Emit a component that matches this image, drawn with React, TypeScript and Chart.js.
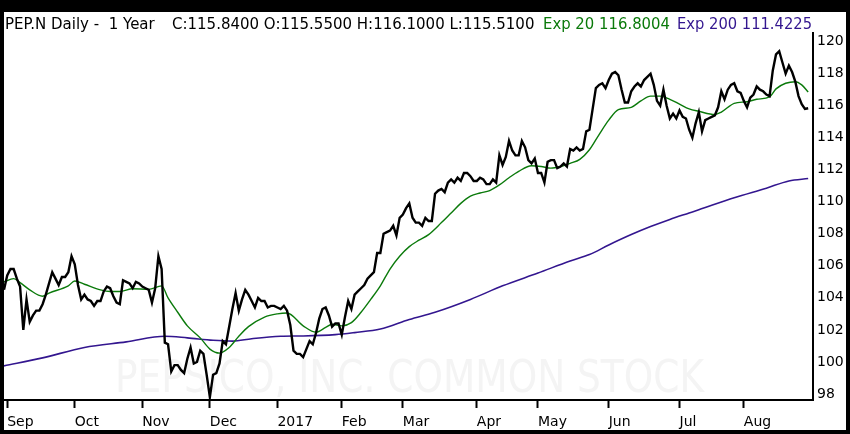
import React, { useEffect, useRef } from "react";
import { Chart, registerables } from "chart.js";

Chart.register(...registerables);

// ---- Data (daily closes) ----
const aug16 = [104.5];
const sep16 = [105.4, 105.8, 105.8, 105.2, 104.7, 102.0, 103.9, 102.5, 102.9, 103.2, 103.2, 103.6, 104.2, 104.9, 105.6, 105.2, 104.8, 105.3, 105.3, 105.6, 106.6];
const oct16 = [106.1, 104.8, 103.9, 104.2, 103.9, 103.8, 103.5, 103.8, 103.8, 104.4, 104.7, 104.6, 104.1, 103.7, 103.6, 105.1, 105.0, 104.9, 104.6, 105.0, 104.9];
const nov16 = [104.7, 104.6, 104.5, 103.7, 104.6, 106.6, 105.8, 101.2, 101.1, 99.4, 99.8, 99.8, 99.5, 99.3, 100.2, 100.9, 99.9, 100.0, 100.7, 100.5, 99.2];
const dec16 = [97.8, 99.2, 99.3, 99.9, 101.3, 101.1, 102.2, 103.3, 104.3, 103.2, 103.9, 104.5, 104.2, 103.8, 103.4, 104.0, 103.8, 103.8, 103.4, 103.5, 103.5];
const jan17 = [103.4, 103.3, 103.5, 103.2, 102.3, 100.7, 100.5, 100.5, 100.3, 100.8, 101.3, 101.1, 101.8, 102.7, 103.3, 103.4, 102.9, 102.2, 102.4, 102.4];
const feb17 = [101.7, 102.8, 103.8, 103.3, 104.2, 104.4, 104.6, 104.8, 105.2, 105.4, 105.6, 106.8, 106.8, 108.0, 108.1, 108.2, 108.5, 107.9, 109.0];
const mar17 = [109.2, 109.6, 109.9, 109.0, 108.7, 108.7, 108.5, 109.0, 108.8, 108.8, 110.5, 110.7, 110.8, 110.6, 111.2, 111.4, 111.2, 111.5, 111.3, 111.8, 111.8, 111.6, 111.3];
const apr17 = [111.3, 111.5, 111.4, 111.1, 111.1, 111.4, 111.2, 112.9, 112.3, 112.8, 113.8, 113.2, 112.9, 112.9, 113.8, 113.4, 112.6, 112.4, 112.7];
const may17 = [111.8, 111.8, 111.2, 112.5, 112.6, 112.6, 112.1, 112.2, 112.4, 112.2, 113.3, 113.2, 113.4, 113.2, 113.3, 114.4, 114.5, 115.8, 117.1, 117.3, 117.4, 117.1];
const jun17 = [117.6, 118.0, 118.1, 117.9, 117.0, 116.2, 116.2, 116.9, 117.2, 117.4, 117.2, 117.6, 117.8, 118.0, 117.3, 116.3, 116.0, 117.0, 116.0, 115.2, 115.5, 115.2];
const jul17 = [115.7, 115.3, 115.2, 114.5, 114.0, 114.9, 115.6, 114.4, 115.1, 115.2, 115.3, 115.4, 115.9, 116.9, 116.4, 117.0, 117.3, 117.4, 116.9, 116.8];
const aug17 = [116.3, 115.9, 116.5, 116.7, 117.2, 117.0, 116.9, 116.7, 116.6, 118.2, 119.2, 119.4, 118.7, 118.0, 118.5, 118.1, 117.5, 116.6, 116.1, 115.8, 115.84];

const monthLabels = ["Sep", "Oct", "Nov", "Dec", "2017", "Feb", "Mar", "Apr", "May", "Jun", "Jul", "Aug"];
const monthSeries = [sep16, oct16, nov16, dec16, jan17, feb17, mar17, apr17, may17, jun17, jul17, aug17];

// Exp 20 moving average (sampled at trading-day indices)
const ema20Idx = [0, 3, 5, 8, 12, 14, 20, 22, 25, 30, 33, 36, 40, 45, 49, 51, 54, 57, 61, 64, 67, 70, 73, 76, 81, 85, 88, 93, 97, 100, 102, 105, 108, 111, 114, 117, 120, 123, 126, 129, 132, 136, 139, 142, 145, 148, 151, 154, 157, 160, 164, 167, 170, 173, 176, 179, 182, 185, 188, 191, 195, 198, 201, 204, 207, 210, 213, 216, 221, 223, 227, 231, 234, 238, 240, 243, 246, 248, 250];
const ema20Val = [105.0, 105.2, 104.95, 104.5, 104.1, 104.3, 104.75, 105.05, 104.85, 104.5, 104.4, 104.4, 104.57, 104.53, 104.75, 104.0, 103.1, 102.25, 101.5, 100.8, 100.55, 100.9, 101.6, 102.2, 102.8, 103.0, 103.05, 102.25, 101.85, 102.15, 102.35, 102.25, 102.45, 103.1, 103.9, 104.75, 105.8, 106.6, 107.2, 107.6, 107.95, 108.7, 109.3, 109.9, 110.35, 110.55, 110.7, 111.05, 111.5, 111.9, 112.25, 112.2, 112.1, 112.2, 112.4, 112.65, 113.25, 114.2, 115.1, 115.75, 115.9, 116.3, 116.6, 116.6, 116.4, 116.1, 115.8, 115.65, 115.45, 115.6, 116.15, 116.25, 116.4, 116.55, 117.05, 117.4, 117.5, 117.3, 116.85];

// Exp 200 moving average
const ema200Idx = [0, 12, 25, 38, 50, 57, 65, 71, 77, 86, 93, 103, 109, 117, 126, 134, 145, 155, 166, 176, 182, 188, 195, 201, 207, 213, 216, 227, 237, 244, 250];
const ema200Val = [99.75, 100.25, 100.9, 101.25, 101.6, 101.5, 101.35, 101.3, 101.45, 101.6, 101.62, 101.7, 101.83, 102.05, 102.65, 103.1, 103.9, 104.75, 105.55, 106.3, 106.7, 107.3, 107.95, 108.45, 108.9, 109.3, 109.5, 110.25, 110.85, 111.3, 111.45];

const yTickValues = [98, 100, 102, 104, 106, 108, 110, 112, 114, 116, 118, 120];

const headerMain = "PEP.N Daily -  1 Year";
const headerOHLC = "C:115.8400 O:115.5500 H:116.1000 L:115.5100";
const headerExp20 = "Exp 20 116.8004";
const headerExp200 = "Exp 200 111.4225";
const watermarkText = "PEPSICO, INC. COMMON STOCK";

// ---- Derived ----
const closes: number[] = [...aug16];
const monthStartIdx: number[] = [];
monthSeries.forEach((m) => {
  monthStartIdx.push(closes.length);
  closes.push(...m);
});

const GREEN = "#0b7a0b";
const PURPLE = "#33168f";
const FONT = "'DejaVu Sans', 'Noto Sans', sans-serif";

const framePlugin = {
  id: "frame",
  beforeDraw(chart: any) {
    const ctx = chart.ctx;
    ctx.save();
    ctx.fillStyle = "#000";
    ctx.fillRect(0, 0, chart.width, chart.height);
    ctx.fillStyle = "#fff";
    ctx.fillRect(4, 12, chart.width - 8, chart.height - 16);
    ctx.restore();
  },
  beforeDatasetsDraw(chart: any) {
    const ctx = chart.ctx;
    ctx.save();
    ctx.font = `45px ${FONT}`;
    ctx.fillStyle = "#f4f4f4";
    ctx.textBaseline = "alphabetic";
    ctx.textAlign = "left";
    ctx.fillText(watermarkText, 115, 392, 589);
    ctx.restore();
  },
  afterDraw(chart: any) {
    const ctx = chart.ctx;
    ctx.save();
    ctx.font = `15px ${FONT}`;
    ctx.textBaseline = "alphabetic";
    ctx.textAlign = "left";
    const segs: [string, number, number, string][] = [
      [headerMain, 5, 151, "#000"],
      [headerOHLC, 172, 365, "#000"],
      [headerExp20, 543, 127, GREEN],
      [headerExp200, 677, 135, PURPLE],
    ];
    segs.forEach(([t, x, w, c]) => {
      ctx.fillStyle = c;
      ctx.fillText(t, x, 29, w);
    });
    ctx.restore();
  },
};

export default function App() {
  const ref = useRef<HTMLCanvasElement>(null);

  useEffect(() => {
    if (!ref.current) return;
    const chart = new Chart(ref.current, {
      type: "line",
      data: {
        datasets: [
          {
            label: "PEP.N",
            data: closes.map((v, i) => ({ x: i, y: v })),
            borderColor: "#000",
            borderWidth: 2.4,
            pointRadius: 0,
            tension: 0,
            order: 0,
          },
          {
            label: "Exp 20",
            data: ema20Idx.map((x, k) => ({ x, y: ema20Val[k] })),
            borderColor: GREEN,
            borderWidth: 1.4,
            pointRadius: 0,
            cubicInterpolationMode: "monotone",
            order: 1,
          },
          {
            label: "Exp 200",
            data: ema200Idx.map((x, k) => ({ x, y: ema200Val[k] })),
            borderColor: PURPLE,
            borderWidth: 1.6,
            pointRadius: 0,
            cubicInterpolationMode: "monotone",
            order: 2,
          },
        ],
      },
      options: {
        responsive: false,
        animation: false,
        events: [],
        layout: { padding: { top: 33, left: 4, right: 0, bottom: 0 } },
        plugins: { legend: { display: false }, tooltip: { enabled: false }, title: { display: false } },
        scales: {
          x: {
            type: "linear",
            position: "bottom",
            min: 0,
            max: 251.5,
            bounds: "data",
            afterBuildTicks: (axis: any) => {
              axis.ticks = monthStartIdx.map((v) => ({ value: v }));
            },
            afterFit: (axis: any) => {
              axis.height = 34;
            },
            grid: {
              display: true,
              drawOnChartArea: false,
              drawTicks: true,
              tickLength: 8,
              tickWidth: 2,
              tickColor: "#000",
            },
            border: { display: true, color: "#000", width: 2 },
            ticks: {
              autoSkip: false,
              maxRotation: 0,
              align: "start",
              padding: 6,
              color: "#000",
              font: { family: FONT, size: 14 },
              callback: (value: any) => {
                const k = monthStartIdx.indexOf(Number(value));
                return k >= 0 ? monthLabels[k] : null;
              },
            },
          },
          y: {
            type: "linear",
            position: "right",
            min: 97.62,
            max: 120.54,
            bounds: "data",
            afterBuildTicks: (axis: any) => {
              axis.ticks = yTickValues.map((v) => ({ value: v }));
            },
            afterFit: (axis: any) => {
              axis.width = 37;
            },
            grid: { display: true, drawOnChartArea: false, drawTicks: false },
            border: { display: true, color: "#000", width: 2 },
            ticks: {
              padding: 4,
              color: "#000",
              font: { family: FONT, size: 14 },
              callback: (value: any) => String(value),
            },
          },
        },
      },
      plugins: [framePlugin],
    } as any);
    return () => chart.destroy();
  }, []);

  return (
    <div style={{ position: "fixed", left: 0, top: 0, width: 850, height: 434 }}>
      <canvas ref={ref} width={850} height={434} style={{ display: "block", width: 850, height: 434 }} />
    </div>
  );
}
